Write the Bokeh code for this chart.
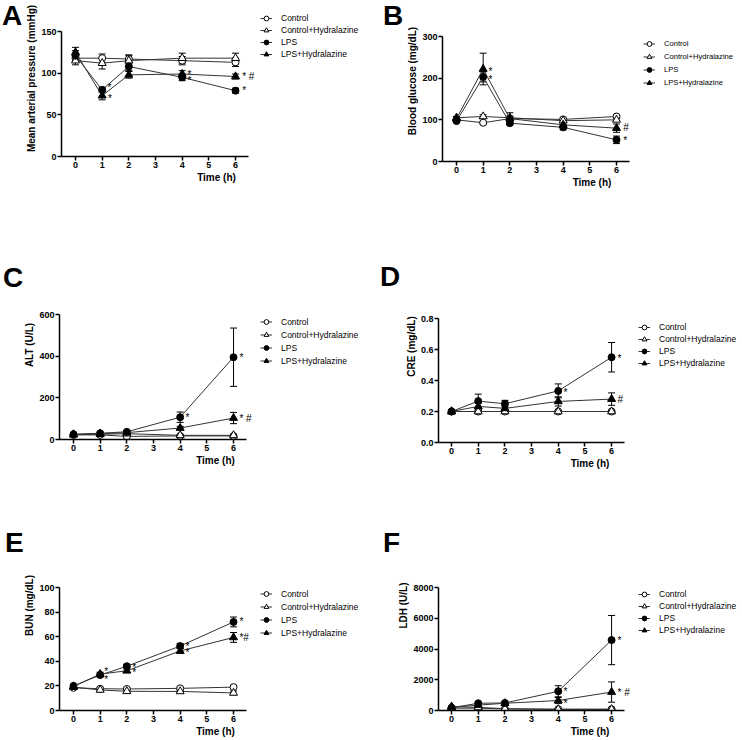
from bokeh.plotting import figure
from bokeh.layouts import column, row
from bokeh.models import (Range1d, FixedTicker, PrintfTickFormatter, Legend, LegendItem,
                          Whisker, TeeHead, ColumnDataSource, Div)
from bokeh.core.properties import value
from bokeh.embed import file_html
from bokeh.resources import INLINE

FONT = "Liberation Sans"
time_h = [0, 1, 2, 4, 6]
x_ticks = [0, 1, 2, 3, 4, 5, 6]
groups = ["Control", "Control+Hydralazine", "LPS", "LPS+Hydralazine"]

# A: Mean arterial pressure (mmHg)
map_ctrl = [118, 118, 117, 115, 113]
map_ctrl_err = [5, 5, 5, 5, 5]
map_ctrlh = [115, 112, 115, 118, 118]
map_ctrlh_err = [5, 7, 6, 6, 6]
map_lps = [121, 80, 108, 95, 79]
map_lps_err = [6, 3, 5, 4, 3]
map_lpsh = [125, 73, 98, 99, 96]
map_lpsh_err = [6, 5, 4, 4, 3]
map_ticks = [0, 50, 100, 150]
map_ann_x = [1.2, 1.22, 4.2, 4.2, 6.25, 6.25]
map_ann_y = [83, 70, 99, 91, 96, 79]
map_ann_t = ["*", "*", "*", "*", "* #", "*"]

# B: Blood glucose (mg/dL)
glu_ctrl = [100, 93, 103, 101, 108]
glu_ctrl_err = [3, 3, 4, 3, 3]
glu_ctrlh = [105, 108, 105, 98, 100]
glu_ctrlh_err = [3, 4, 4, 3, 4]
glu_lps = [97, 203, 92, 82, 52]
glu_lps_err = [3, 12, 4, 6, 9]
glu_lpsh = [103, 222, 103, 88, 80]
glu_lpsh_err = [4, 38, 14, 5, 10]
glu_ticks = [0, 100, 200, 300]
glu_ann_x = [1.2, 1.2, 6.25, 6.25]
glu_ann_y = [215, 196, 81, 50]
glu_ann_t = ["*", "*", "#", "*"]

# C: ALT (U/L)
alt_ctrl = [22, 22, 15, 17, 17]
alt_ctrl_err = [3, 3, 3, 3, 3]
alt_ctrlh = [24, 25, 28, 20, 20]
alt_ctrlh_err = [3, 3, 3, 3, 3]
alt_lps = [25, 30, 37, 107, 395]
alt_lps_err = [4, 5, 5, 25, 140]
alt_lpsh = [24, 28, 33, 55, 103]
alt_lpsh_err = [3, 4, 4, 8, 27]
alt_ticks = [0, 200, 400, 600]
alt_ann_x = [4.2, 6.22, 6.22]
alt_ann_y = [105, 392, 101]
alt_ann_t = ["*", "*", "* #"]

# D: CRE (mg/dL)
cre_ctrl = [0.2, 0.2, 0.2, 0.2, 0.2]
cre_ctrl_err = [0.004, 0.004, 0.004, 0.004, 0.004]
cre_ctrlh = [0.2, 0.2, 0.2, 0.2, 0.2]
cre_ctrlh_err = [0.004, 0.004, 0.004, 0.004, 0.004]
cre_lps = [0.2, 0.267, 0.25, 0.333, 0.55]
cre_lps_err = [0.005, 0.045, 0.022, 0.045, 0.095]
cre_lpsh = [0.2, 0.233, 0.22, 0.265, 0.28]
cre_lpsh_err = [0.005, 0.02, 0.015, 0.03, 0.04]
cre_ticks = [0.0, 0.2, 0.4, 0.6, 0.8]
cre_ann_x = [4.2, 6.22, 6.22]
cre_ann_y = [0.32, 0.545, 0.28]
cre_ann_t = ["*", "*", "#"]

# E: BUN (mg/dL)
bun_ctrl = [18.5, 17.7, 17.5, 18, 19]
bun_ctrl_err = [1, 1, 1, 1, 1]
bun_ctrlh = [19, 16.7, 15.6, 15.5, 14.3]
bun_ctrlh_err = [1, 1, 1, 1, 1.5]
bun_lps = [20, 28.8, 36, 52.4, 72]
bun_lps_err = [1, 1.5, 1.5, 2, 4]
bun_lpsh = [19.5, 29.6, 32.3, 48.4, 59.4]
bun_lpsh_err = [1, 1.5, 1.5, 2, 4]
bun_ticks = [0, 20, 40, 60, 80, 100]
bun_ann_x = [1.15, 1.15, 2.2, 2.2, 4.2, 4.2, 6.22, 6.22]
bun_ann_y = [32, 25.5, 35, 31, 52, 47, 72, 59]
bun_ann_t = ["*", "*", "*", "*", "*", "*", "*", "*#"]

# F: LDH (U/L)
ldh_ctrl = [150, 150, 100, 80, 80]
ldh_ctrl_err = [30, 30, 30, 30, 30]
ldh_ctrlh = [250, 200, 120, 80, 80]
ldh_ctrlh_err = [30, 30, 30, 30, 30]
ldh_lps = [180, 470, 490, 1250, 4580]
ldh_lps_err = [50, 60, 60, 360, 1600]
ldh_lpsh = [200, 350, 470, 650, 1200]
ldh_lpsh_err = [50, 60, 60, 200, 660]
ldh_ticks = [0, 2000, 4000, 6000, 8000]
ldh_ann_x = [4.2, 4.2, 6.22, 6.22]
ldh_ann_y = [1230, 480, 4580, 1200]
ldh_ann_t = ["*", "*", "*", "* #"]

PXU = 26.67


def panel(letter, letter_x, letter_base, div_w, col_w, x0, frame_left, axis_top, axis_bottom,
          fig_h, ticks, fmt, ylabel, series, ann, leg_x, leg_top, leg_row, leg_font="8.5px"):
    fw = col_w - div_w
    fl = frame_left - div_w
    ymax = ticks[-1]
    pxu_y = (axis_bottom - axis_top) / ymax
    y_end = ymax + axis_top / pxu_y
    x_end = x0 + (fw - fl) / PXU
    p = figure(width=fw, height=fig_h, output_backend="svg", toolbar_location=None,
               x_range=Range1d(x0, x_end), y_range=Range1d(0, y_end),
               min_border_left=fl, min_border_right=0, min_border_top=0,
               min_border_bottom=fig_h - axis_bottom)
    p.outline_line_color = None
    p.border_fill_alpha = 0
    p.background_fill_alpha = 0
    p.xgrid.visible = False
    p.ygrid.visible = False
    for ax, tk, b in ((p.xaxis, x_ticks, (x0, 6.5)), (p.yaxis, ticks, (0, ymax))):
        ax.ticker = FixedTicker(ticks=tk)
        ax.bounds = b
        ax.axis_line_width = 1.5
        ax.axis_line_color = "black"
        ax.major_tick_line_color = "black"
        ax.major_tick_line_width = 1.5
        ax.major_tick_out = 4
        ax.major_tick_in = 0
        ax.minor_tick_line_color = None
        ax.major_label_text_font = FONT
        ax.major_label_text_font_style = "bold"
        ax.major_label_text_font_size = "9px"
        ax.major_label_text_color = "black"
        ax.major_label_standoff = 1
        ax.axis_label_text_font = FONT
        ax.axis_label_text_font_style = "bold"
        ax.axis_label_text_font_size = "10px"
        ax.axis_label_text_color = "black"
        ax.axis_label_standoff = 1
    p.xaxis.axis_label = "Time (h)"
    p.yaxis.axis_label = ylabel
    p.yaxis.formatter = PrintfTickFormatter(format=fmt)

    styles = [("circle", "white", 7), ("triangle", "white", 8),
              ("circle", "black", 7), ("triangle", "black", 8)]
    items = []
    for name, (vals, errs), (mk, fill, sz) in zip(groups, series, styles):
        src = ColumnDataSource(dict(x=time_h, y=vals,
                                    lo=[v - e for v, e in zip(vals, errs)],
                                    hi=[v + e for v, e in zip(vals, errs)]))
        w = Whisker(base="x", upper="hi", lower="lo", source=src, line_color="black",
                    line_width=1,
                    upper_head=TeeHead(size=7, line_color="black", line_width=1),
                    lower_head=TeeHead(size=7, line_color="black", line_width=1))
        p.add_layout(w)
        lr = p.line("x", "y", source=src, line_color="#333333", line_width=1)
        sr = p.scatter("x", "y", source=src, marker=mk, size=sz, fill_color=fill,
                       line_color="black", line_width=1)
        items.append(LegendItem(label=name, renderers=[lr, sr]))

    ax_, ay_, at_ = ann
    p.text(x=ax_, y=ay_, text=at_, text_font=value(FONT), text_font_size="10px",
           text_baseline="middle", text_align="left", text_color="black")

    leg = Legend(items=items,
                 location=(leg_x - frame_left, axis_bottom - (leg_top + 4 * leg_row)),
                 border_line_color=None, background_fill_alpha=0, padding=0, margin=0,
                 spacing=0, label_height=leg_row, glyph_height=leg_row, glyph_width=12,
                 label_standoff=9, label_text_font=FONT, label_text_font_size=leg_font,
                 label_text_color="black")
    p.add_layout(leg)

    top = letter_base - 19.7
    html = ('<div style="position:relative;z-index:10;left:%dpx;top:%.1fpx;'
            'font-family:\'Liberation Sans\';white-space:nowrap;overflow:visible;'
            'font-weight:bold;font-size:28px;line-height:20px;color:black;">%s</div>'
            % (letter_x, top, letter))
    d = Div(text=html, width=div_w, height=fig_h, margin=0,
            styles={"overflow": "visible", "z-index": "10"})
    return row(d, p, spacing=0)


pA = panel("A", 2, 25.5, 22, 371, -0.525, 61, 31, 156, 250, map_ticks, "%d",
           "Mean arterial pressure (mmHg)",
           [(map_ctrl, map_ctrl_err), (map_ctrlh, map_ctrlh_err), (map_lps, map_lps_err),
            (map_lpsh, map_lpsh_err)], (map_ann_x, map_ann_y, map_ann_t), 260, 12, 12)
pB = panel("B", 12, 25.5, 32, 370, -0.525, 71, 36, 161, 250, glu_ticks, "%d",
           "Blood glucose (mg/dL)",
           [(glu_ctrl, glu_ctrl_err), (glu_ctrlh, glu_ctrlh_err), (glu_lps, glu_lps_err),
            (glu_lpsh, glu_lpsh_err)], (glu_ann_x, glu_ann_y, glu_ann_t), 272, 37, 13, "7.6px")
pC = panel("C", 3, 38, 20, 371, -0.525, 59, 64, 189, 250, alt_ticks, "%d", "ALT (U/L)",
           [(alt_ctrl, alt_ctrl_err), (alt_ctrlh, alt_ctrlh_err), (alt_lps, alt_lps_err),
            (alt_lpsh, alt_lpsh_err)], (alt_ann_x, alt_ann_y, alt_ann_t), 260, 65, 13)
pD = panel("D", 9, 37, 30, 370, -0.49, 67, 68, 192, 250, cre_ticks, "%.1f", "CRE (mg/dL)",
           [(cre_ctrl, cre_ctrl_err), (cre_ctrlh, cre_ctrlh_err), (cre_lps, cre_lps_err),
            (cre_lpsh, cre_lpsh_err)], (cre_ann_x, cre_ann_y, cre_ann_t), 267, 71, 12)
pE = panel("E", 5, 53, 20, 371, -0.525, 59, 87, 210, 239, bun_ticks, "%d", "BUN (mg/dL)",
           [(bun_ctrl, bun_ctrl_err), (bun_ctrlh, bun_ctrlh_err), (bun_lps, bun_lps_err),
            (bun_lpsh, bun_lpsh_err)], (bun_ann_x, bun_ann_y, bun_ann_t), 260, 87, 13)
pF = panel("F", 12, 53, 23, 370, -0.49, 67, 87, 210, 239, ldh_ticks, "%d", "LDH (U/L)",
           [(ldh_ctrl, ldh_ctrl_err), (ldh_ctrlh, ldh_ctrlh_err), (ldh_lps, ldh_lps_err),
            (ldh_lpsh, ldh_lpsh_err)], (ldh_ann_x, ldh_ann_y, ldh_ann_t), 267, 88, 12)

layout = column(row(pA, pB, spacing=0), row(pC, pD, spacing=0), row(pE, pF, spacing=0),
                spacing=0)
open("out.html", "w").write(file_html(layout, INLINE))
